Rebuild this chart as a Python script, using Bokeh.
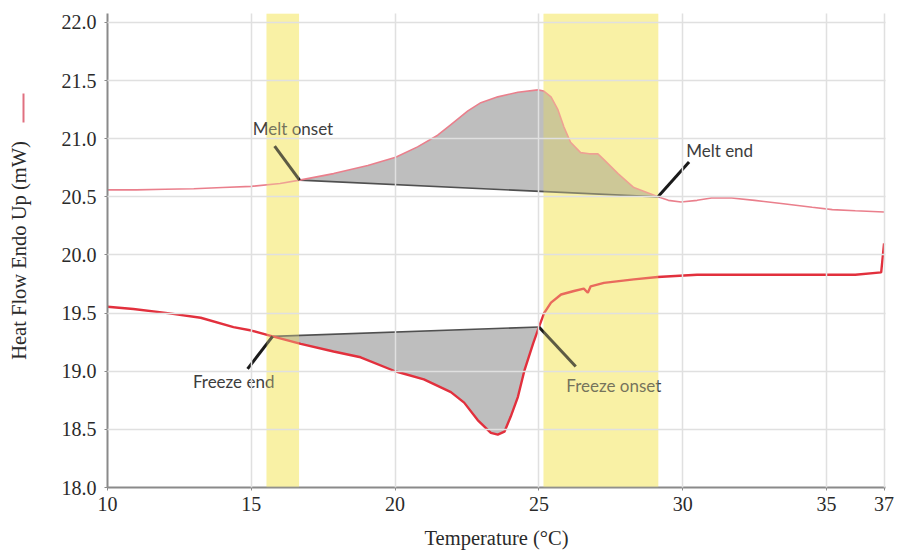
import numpy as np
from bokeh.plotting import figure
from bokeh.models import BoxAnnotation, FixedTicker, PrintfTickFormatter, Range1d, LinearAxis
from bokeh.core.properties import value
from bokeh.embed import file_html
from bokeh.resources import INLINE

# ---- data ----
melt_T = [10.0, 11.0, 12.0, 13.0, 14.0, 15.0, 16.0, 16.68, 17.86, 19.05, 20.02, 20.78, 21.48,
          21.93, 22.53, 22.98, 23.57, 24.27, 24.96, 25.17, 25.42, 25.66, 25.87, 26.1, 26.45,
          26.75, 27.05, 27.26, 27.75, 28.3, 29.14, 29.5, 29.94, 30.5, 31.0, 31.7, 32.5, 33.5,
          34.5, 35.2, 36.0, 37.0]
melt_HF = [20.56, 20.56, 20.565, 20.57, 20.58, 20.59, 20.615, 20.644, 20.70, 20.77, 20.84, 20.93,
           21.03, 21.12, 21.24, 21.31, 21.36, 21.40, 21.42, 21.41, 21.36, 21.25, 21.10, 20.97,
           20.88, 20.87, 20.87, 20.82, 20.70, 20.58, 20.50, 20.47, 20.455, 20.47, 20.49, 20.49,
           20.47, 20.44, 20.41, 20.39, 20.38, 20.37]

freeze_T = [10.0, 10.9, 12.09, 13.24, 14.38, 15.0, 15.74, 16.72, 17.86, 18.8, 20.0, 21.0, 21.94,
            22.4, 22.87, 23.33, 23.57, 23.8, 24.02, 24.27, 24.5, 24.8, 25.0, 25.18, 25.42, 25.77,
            26.22, 26.56, 26.7, 26.8, 27.26, 28.3, 29.13, 30.5, 32.0, 34.0, 36.0, 36.9, 37.0]
freeze_HF = [19.555, 19.535, 19.50, 19.46, 19.38, 19.35, 19.30, 19.236, 19.17, 19.12, 19.00,
             18.93, 18.82, 18.73, 18.58, 18.47, 18.455, 18.48, 18.61, 18.78, 19.01, 19.24, 19.38,
             19.50, 19.59, 19.66, 19.69, 19.71, 19.675, 19.73, 19.76, 19.79, 19.81, 19.83, 19.83,
             19.83, 19.83, 19.85, 20.10]

melt_onset = (16.68, 20.644)
melt_end = (29.14, 20.50)
freeze_end = (15.74, 19.30)
freeze_onset = (25.0, 19.38)

band_left = [15.53, 25.16]
band_right = [16.66, 29.15]

labels = ["Melt onset", "Melt end", "Freeze end", "Freeze onset"]
label_x = [15.05, 30.12, 12.97, 25.95]
label_y = [21.09, 20.90, 18.91, 18.88]
leader_x0 = [16.68, 29.14, 15.74, 25.0]
leader_y0 = [20.644, 20.50, 19.30, 19.38]
leader_x1 = [15.81, 30.22, 14.87, 26.28]
leader_y1 = [20.936, 20.80, 19.02, 19.04]

x_ticks = [10, 15, 20, 25, 30, 35, 37]
y_ticks = [18.0, 18.5, 19.0, 19.5, 20.0, 20.5, 21.0, 21.5, 22.0]

YELLOW = "#f9f1a5"
SERIF = "Times New Roman"
TXT = "#2a2a2a"

# ---- figure ----
p = figure(width=897, height=551, output_backend="svg", toolbar_location=None,
           x_range=Range1d(10, 37.05), y_range=Range1d(18.0, 22.077),
           min_border_left=107, min_border_right=12, min_border_top=13, min_border_bottom=63)
p.outline_line_color = None
p.background_fill_color = "white"

for l, r in zip(band_left, band_right):
    p.add_layout(BoxAnnotation(left=l, right=r, fill_color=YELLOW, fill_alpha=1.0,
                               line_alpha=0, level="underlay"))

mT = np.array(melt_T); mH = np.array(melt_HF)
mask = (mT >= melt_onset[0]) & (mT <= melt_end[0])
mbase = np.interp(mT[mask], [melt_onset[0], melt_end[0]], [melt_onset[1], melt_end[1]])
p.varea(x=mT[mask], y1=mbase, y2=mH[mask], fill_color="#7d7d7d", fill_alpha=0.5)

fT = np.array(freeze_T); fH = np.array(freeze_HF)
fmask = (fT >= freeze_end[0]) & (fT <= freeze_onset[0])
fbase = np.interp(fT[fmask], [freeze_end[0], freeze_onset[0]], [freeze_end[1], freeze_onset[1]])
p.varea(x=fT[fmask], y1=fbase, y2=fH[fmask], fill_color="#7d7d7d", fill_alpha=0.5)

p.line([melt_onset[0], melt_end[0]], [melt_onset[1], melt_end[1]], line_color="#505050", line_width=1.6)
p.line([freeze_end[0], freeze_onset[0]], [freeze_end[1], freeze_onset[1]], line_color="#505050", line_width=1.6)

p.line(melt_T, melt_HF, line_color="#ea7f8c", line_width=1.6)
p.line(freeze_T, freeze_HF, line_color="#e2303d", line_width=2.4)

for l, r in zip(band_left, band_right):
    p.add_layout(BoxAnnotation(left=l, right=r, fill_color=YELLOW, fill_alpha=0.3,
                               line_alpha=0, level="annotation"))

p.segment(x0=leader_x0, y0=leader_y0, x1=leader_x1, y1=leader_y1, line_color="#1a1a1a", line_width=3)
p.text(x=label_x, y=label_y, text=labels, text_font=value("Lato"), text_font_size="17px",
       text_color="#3d3d3d", text_baseline="middle", text_align="left")

# grid
p.xgrid.ticker = FixedTicker(ticks=x_ticks)
p.ygrid.ticker = FixedTicker(ticks=y_ticks)
for g in (p.xgrid, p.ygrid):
    g.grid_line_color = "#e0e0e0"
    g.grid_line_width = 1.5
    g.level = "overlay"

# axes
p.xaxis.ticker = FixedTicker(ticks=x_ticks)
p.yaxis.ticker = FixedTicker(ticks=y_ticks)
p.xaxis.formatter = PrintfTickFormatter(format="%d")
p.yaxis.formatter = PrintfTickFormatter(format="%.1f")
for ax in (p.xaxis, p.yaxis):
    ax.axis_line_color = "#8a8a8a"
    ax.axis_line_width = 2
    ax.major_tick_line_color = "#8a8a8a"
    ax.major_tick_out = 3
    ax.major_tick_in = 0
    ax.minor_tick_line_color = None
    ax.major_label_text_font = SERIF
    ax.major_label_text_font_size = "20px"
    ax.major_label_text_color = TXT
    ax.axis_label_text_font = SERIF
    ax.axis_label_text_font_size = "20.5px"
    ax.axis_label_text_font_style = "normal"
    ax.axis_label_text_color = TXT
p.xaxis.axis_label = "Temperature (°C)"
p.xaxis.major_label_standoff = 6
p.xaxis.axis_label_standoff = 13
p.yaxis.major_label_standoff = 8
# blank spacer label on the tick axis so that the titled axis sits further out
p.yaxis.axis_label = " "
p.yaxis.axis_label_standoff = 10

# outer left axis: carries the y title and, as its short rule, the red series marker
title_axis = LinearAxis(bounds=(21.14, 21.39), ticker=FixedTicker(ticks=[]),
                        axis_line_color="#e07080", axis_line_width=2,
                        major_tick_line_color=None, minor_tick_line_color=None,
                        major_tick_out=0, major_label_text_font_size="0px",
                        axis_label="Heat Flow Endo Up (mW)", axis_label_standoff=-6,
                        axis_label_text_font=SERIF, axis_label_text_font_size="20.5px",
                        axis_label_text_font_style="normal", axis_label_text_color=TXT)
p.add_layout(title_axis, "left")

open("out.html", "w").write(file_html(p, INLINE))
